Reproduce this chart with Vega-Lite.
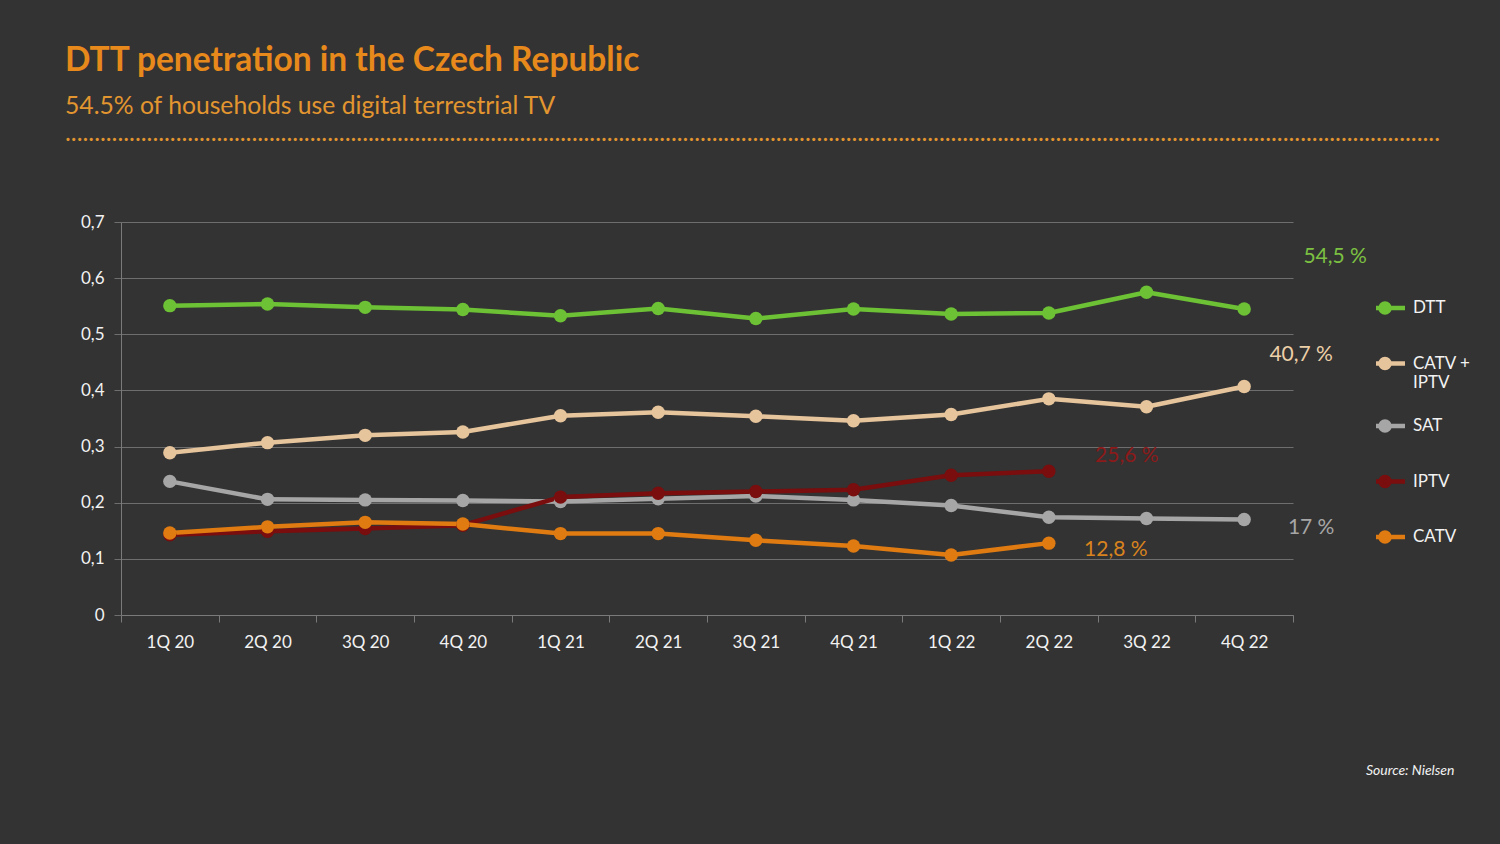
{
  "$schema": "https://vega.github.io/schema/vega-lite/v6.json",
  "width": 1172,
  "height": 393,
  "autosize": {"type": "none"},
  "padding": {"left": 121, "top": 222, "right": 207, "bottom": 229},
  "background": "#333333",
  "title": {
    "text": "DTT penetration in the Czech Republic",
    "subtitle": [
      "54.5% of households use digital terrestrial TV",
      "............................................................................................................................................................................................................................................"
    ],
    "anchor": "start",
    "frame": "group",
    "dx": -56,
    "offset": 66,
    "font": "Lato",
    "fontSize": 33.5,
    "fontWeight": "bold",
    "color": "#E8891C",
    "subtitleFont": "Lato",
    "subtitleFontSize": 24.7,
    "subtitleColor": "#E3962F",
    "subtitleLineHeight": 27,
    "subtitlePadding": 16
  },
  "datasets": {
    "tv": [
      {"q": "1Q 20", "series": "DTT", "v": 0.551},
      {"q": "2Q 20", "series": "DTT", "v": 0.554},
      {"q": "3Q 20", "series": "DTT", "v": 0.548},
      {"q": "4Q 20", "series": "DTT", "v": 0.544},
      {"q": "1Q 21", "series": "DTT", "v": 0.533},
      {"q": "2Q 21", "series": "DTT", "v": 0.546},
      {"q": "3Q 21", "series": "DTT", "v": 0.528},
      {"q": "4Q 21", "series": "DTT", "v": 0.545},
      {"q": "1Q 22", "series": "DTT", "v": 0.536},
      {"q": "2Q 22", "series": "DTT", "v": 0.538},
      {"q": "3Q 22", "series": "DTT", "v": 0.575},
      {"q": "4Q 22", "series": "DTT", "v": 0.545},
      {"q": "1Q 20", "series": "CATV + IPTV", "v": 0.289},
      {"q": "2Q 20", "series": "CATV + IPTV", "v": 0.307},
      {"q": "3Q 20", "series": "CATV + IPTV", "v": 0.320},
      {"q": "4Q 20", "series": "CATV + IPTV", "v": 0.326},
      {"q": "1Q 21", "series": "CATV + IPTV", "v": 0.355},
      {"q": "2Q 21", "series": "CATV + IPTV", "v": 0.361},
      {"q": "3Q 21", "series": "CATV + IPTV", "v": 0.354},
      {"q": "4Q 21", "series": "CATV + IPTV", "v": 0.346},
      {"q": "1Q 22", "series": "CATV + IPTV", "v": 0.357},
      {"q": "2Q 22", "series": "CATV + IPTV", "v": 0.385},
      {"q": "3Q 22", "series": "CATV + IPTV", "v": 0.371},
      {"q": "4Q 22", "series": "CATV + IPTV", "v": 0.407},
      {"q": "1Q 20", "series": "SAT", "v": 0.238},
      {"q": "2Q 20", "series": "SAT", "v": 0.206},
      {"q": "3Q 20", "series": "SAT", "v": 0.205},
      {"q": "4Q 20", "series": "SAT", "v": 0.204},
      {"q": "1Q 21", "series": "SAT", "v": 0.202},
      {"q": "2Q 21", "series": "SAT", "v": 0.207},
      {"q": "3Q 21", "series": "SAT", "v": 0.212},
      {"q": "4Q 21", "series": "SAT", "v": 0.205},
      {"q": "1Q 22", "series": "SAT", "v": 0.195},
      {"q": "2Q 22", "series": "SAT", "v": 0.174},
      {"q": "3Q 22", "series": "SAT", "v": 0.172},
      {"q": "4Q 22", "series": "SAT", "v": 0.170},
      {"q": "1Q 20", "series": "IPTV", "v": 0.143},
      {"q": "2Q 20", "series": "IPTV", "v": 0.149},
      {"q": "3Q 20", "series": "IPTV", "v": 0.154},
      {"q": "4Q 20", "series": "IPTV", "v": 0.160},
      {"q": "1Q 21", "series": "IPTV", "v": 0.210},
      {"q": "2Q 21", "series": "IPTV", "v": 0.217},
      {"q": "3Q 21", "series": "IPTV", "v": 0.220},
      {"q": "4Q 21", "series": "IPTV", "v": 0.223},
      {"q": "1Q 22", "series": "IPTV", "v": 0.249},
      {"q": "2Q 22", "series": "IPTV", "v": 0.256},
      {"q": "1Q 20", "series": "CATV", "v": 0.146},
      {"q": "2Q 20", "series": "CATV", "v": 0.157},
      {"q": "3Q 20", "series": "CATV", "v": 0.165},
      {"q": "4Q 20", "series": "CATV", "v": 0.162},
      {"q": "1Q 21", "series": "CATV", "v": 0.145},
      {"q": "2Q 21", "series": "CATV", "v": 0.145},
      {"q": "3Q 21", "series": "CATV", "v": 0.133},
      {"q": "4Q 21", "series": "CATV", "v": 0.123},
      {"q": "1Q 22", "series": "CATV", "v": 0.107},
      {"q": "2Q 22", "series": "CATV", "v": 0.128}
    ]
  },
  "data": {"name": "tv"},
  "encoding": {
    "x": {
      "field": "q",
      "type": "nominal",
      "sort": null,
      "scale": {"paddingInner": 0, "paddingOuter": 0},
      "axis": {
        "title": "Source: Nielsen",
        "titleFont": "Lato",
        "titleFontStyle": "italic",
        "titleFontWeight": "normal",
        "titleFontSize": 14,
        "titleColor": "#F2F2F2",
        "titleAlign": "right",
        "titleAnchor": null,
        "titleX": 1333,
        "titleY": 155,
        "titleBaseline": "middle",
        "labelAngle": 0,
        "labelFont": "Lato",
        "labelFontSize": 17,
        "labelColor": "#F2F2F2",
        "labelPadding": 12,
        "tickBand": "extent",
        "tickSize": 7,
        "tickColor": "#7A7A7A",
        "domainColor": "#7A7A7A",
        "grid": false
      }
    },
    "y": {
      "field": "v",
      "type": "quantitative",
      "scale": {"domain": [0, 0.7], "nice": false},
      "axis": {
        "title": null,
        "values": [0, 0.1, 0.2, 0.3, 0.4, 0.5, 0.6, 0.7],
        "labelExpr": "datum.value == 0 ? '0' : replace(format(datum.value, '.1f'), '.', ',')",
        "labelFont": "Lato",
        "labelFontSize": 17,
        "labelColor": "#F2F2F2",
        "labelPadding": 10,
        "tickSize": 7,
        "tickColor": "#6E6E6E",
        "domainColor": "#7A7A7A",
        "gridColor": "#6E6E6E",
        "gridWidth": 1.2
      }
    }
  },
  "layer": [
    {
      "mark": {"type": "line", "strokeCap": "round", "strokeJoin": "round"},
      "encoding": {
        "stroke": {
          "field": "series",
          "type": "nominal",
          "scale": {
            "domain": ["DTT", "CATV + IPTV", "SAT", "IPTV", "CATV"],
            "range": ["#6DC135", "#E6C49C", "#A6A6A6", "#7A0D0D", "#E07B12"]
          },
          "legend": {
            "title": null,
            "orient": "none",
            "legendX": 1255,
            "legendY": 66,
            "clipHeight": 40,
            "symbolType": "M-2.98,0H-0.67M0.67,0H2.98M-0.67,0A0.67,0.67 0 1,1 0.67,0A0.67,0.67 0 1,1 -0.67,0Z",
            "symbolStrokeWidth": 4,
            "labelFont": "Lato",
            "labelFontSize": 17,
            "labelColor": "#F2F2F2",
            "labelOffset": 19,
            "rowPadding": 15.5,
            "labelExpr": "datum.label == 'CATV + IPTV' ? ['CATV +', 'IPTV'] : datum.label"
          }
        },
        "strokeWidth": {
          "field": "series",
          "type": "nominal",
          "scale": {
            "domain": ["DTT", "CATV + IPTV", "SAT", "IPTV", "CATV"],
            "range": [4.5, 4.5, 3.5, 4.5, 4.5]
          },
          "legend": null
        }
      }
    },
    {
      "mark": {"type": "point", "filled": true, "opacity": 1},
      "encoding": {
        "fill": {
          "field": "series",
          "type": "nominal",
          "scale": {
            "domain": ["DTT", "CATV + IPTV", "SAT", "IPTV", "CATV"],
            "range": ["#6DC135", "#E6C49C", "#A6A6A6", "#7A0D0D", "#E07B12"]
          },
          "legend": {
            "title": null,
            "orient": "none",
            "legendX": 1255,
            "legendY": 66,
            "clipHeight": 40,
            "symbolType": "M-2.98,0H-0.67M0.67,0H2.98M-0.67,0A0.67,0.67 0 1,1 0.67,0A0.67,0.67 0 1,1 -0.67,0Z",
            "symbolStrokeWidth": 4,
            "labelFont": "Lato",
            "labelFontSize": 17,
            "labelColor": "#F2F2F2",
            "labelOffset": 19,
            "rowPadding": 15.5,
            "labelExpr": "datum.label == 'CATV + IPTV' ? ['CATV +', 'IPTV'] : datum.label"
          }
        },
        "size": {
          "field": "series",
          "type": "nominal",
          "scale": {
            "domain": ["DTT", "CATV + IPTV", "SAT", "IPTV", "CATV"],
            "range": [180, 180, 95, 180, 180]
          },
          "legend": null
        }
      }
    },
    {
      "transform": [{"filter": "datum.series == 'DTT' && datum.q == '4Q 22'"}],
      "mark": {"type": "text", "dx": 91, "dy": -52, "font": "Lato", "fontSize": 21, "color": "#7CC142"},
      "encoding": {"text": {"value": "54,5 %"}}
    },
    {
      "transform": [{"filter": "datum.series == 'CATV + IPTV' && datum.q == '4Q 22'"}],
      "mark": {"type": "text", "dx": 57, "dy": -31, "font": "Lato", "fontSize": 21, "color": "#EDCFA8"},
      "encoding": {"text": {"value": "40,7 %"}}
    },
    {
      "transform": [{"filter": "datum.series == 'SAT' && datum.q == '4Q 22'"}],
      "mark": {"type": "text", "dx": 67, "dy": 8, "font": "Lato", "fontSize": 21, "color": "#A6A6A6"},
      "encoding": {"text": {"value": "17 %"}}
    },
    {
      "transform": [{"filter": "datum.series == 'IPTV' && datum.q == '2Q 22'"}],
      "mark": {"type": "text", "dx": 78, "dy": -15, "font": "Lato", "fontSize": 21, "color": "#8C1A1A"},
      "encoding": {"text": {"value": "25,6 %"}}
    },
    {
      "transform": [{"filter": "datum.series == 'CATV' && datum.q == '2Q 22'"}],
      "mark": {"type": "text", "dx": 67, "dy": 7, "font": "Lato", "fontSize": 21, "color": "#D9831E"},
      "encoding": {"text": {"value": "12,8 %"}}
    }
  ],
  "config": {"view": {"stroke": null}}
}
